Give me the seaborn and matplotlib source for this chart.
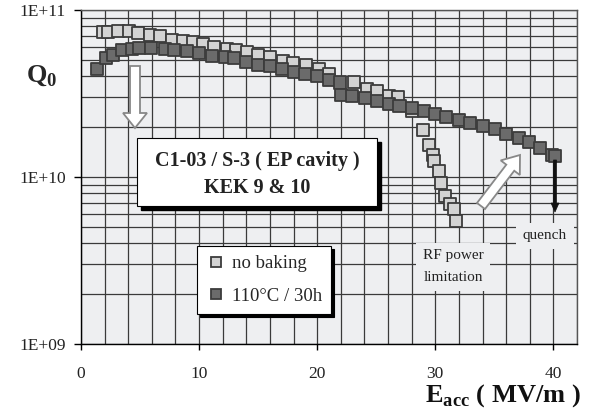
import numpy as np
import pandas as pd
import matplotlib
matplotlib.use("Agg")
import matplotlib.pyplot as plt
import seaborn as sns
from matplotlib.patches import FancyArrow, Rectangle
from matplotlib.transforms import Affine2D
from matplotlib.ticker import FixedLocator, MultipleLocator, LogLocator, FuncFormatter, NullFormatter

# ---- data (Q0 in units of 1E+10) ----
nobake_E = [1.84, 2.26, 3.11, 4.07, 4.86, 5.85, 6.69, 7.71, 8.62, 9.52, 10.31, 11.30,
            12.35, 13.11, 14.04, 14.97, 16.02, 17.09, 17.94, 19.07, 20.19, 21.04,
            23.08, 24.21, 25.06, 26.10, 26.82, 28.03, 28.92, 29.49, 29.77, 29.86,
            30.28, 30.48, 30.79, 31.21, 31.55, 31.72]
nobake_Q = [7.36, 7.43, 7.46, 7.46, 7.29, 7.10, 6.97, 6.65, 6.56, 6.47, 6.27, 5.98,
            5.85, 5.77, 5.58, 5.38, 5.21, 4.98, 4.79, 4.66, 4.44, 4.14,
            3.72, 3.37, 3.27, 3.06, 3.02, 2.49, 1.91, 1.56, 1.35, 1.25,
            1.09, 0.925, 0.769, 0.686, 0.640, 0.545]
baked_E = [1.33, 2.12, 2.74, 3.50, 4.30, 4.94, 5.93, 7.12, 7.88, 8.96, 10.03, 11.13,
           12.20, 12.99, 13.98, 14.97, 16.02, 17.01, 18.05, 18.98, 19.97, 20.96,
           21.95, 22.05, 22.94, 24.04, 25.03, 26.04, 26.97, 28.03, 29.08, 30.00,
           30.92, 31.99, 32.91, 34.03, 35.08, 36.02, 37.06, 37.91, 38.90, 39.89, 40.17]
baked_Q = [4.44, 5.14, 5.41, 5.77, 5.85, 5.93, 5.93, 5.85, 5.77, 5.69, 5.51, 5.33,
           5.26, 5.14, 4.85, 4.71, 4.65, 4.44, 4.28, 4.14, 4.02, 3.81,
           3.68, 3.10, 3.05, 2.99, 2.85, 2.75, 2.67, 2.58, 2.48, 2.38,
           2.29, 2.18, 2.11, 2.03, 1.93, 1.82, 1.72, 1.61, 1.50, 1.36, 1.34]
series_names = ["no baking", "110°C / 30h"]
x_ticks = [0, 10, 20, 30, 40]
y_ticks = [1e9, 1e10, 1e11]

df = pd.DataFrame({
    "E": nobake_E + baked_E,
    "Q": [q * 1e10 for q in nobake_Q] + [q * 1e10 for q in baked_Q],
    "series": [series_names[0]] * len(nobake_E) + [series_names[1]] * len(baked_E),
})

sns.set_theme(style="white")
plt.rcParams["font.family"] = ["Liberation Serif", "DejaVu Serif"]
plt.rcParams["mathtext.fontset"] = "custom"
plt.rcParams["mathtext.bf"] = "Liberation Serif:bold"
plt.rcParams["mathtext.rm"] = "Liberation Serif"

W, H = 589, 412
fig = plt.figure(figsize=(W / 100, H / 100), dpi=100)
fig.patch.set_facecolor("white")
ax = fig.add_axes([81 / W, 1 - 344 / H, (577 - 81) / W, (344 - 10) / H])
px = Affine2D().scale(1 / W, -1 / H).translate(0, 1) + fig.transFigure

bg = "#eeeff1"
ax.set_facecolor(bg)
sns.scatterplot(data=df, x="E", y="Q", hue="series",
                palette={series_names[0]: "#d3d3d3", series_names[1]: "#6b6b6b"},
                marker="s", s=75, edgecolor="#3c3c3c", linewidth=1.3, ax=ax, zorder=3)
ax.set_yscale("log")
ax.set_xlim(0, 42)
ax.set_ylim(1e9, 1e11)
ax.set_xlabel("")
ax.set_ylabel("")

ax.xaxis.set_major_locator(FixedLocator(x_ticks))
ax.xaxis.set_minor_locator(MultipleLocator(2))
ax.yaxis.set_major_locator(FixedLocator(y_ticks))
ax.yaxis.set_minor_locator(LogLocator(base=10, subs=range(2, 10)))
ax.yaxis.set_minor_formatter(NullFormatter())
ax.yaxis.set_major_formatter(FuncFormatter(lambda v, p: "1E+%02d" % int(round(np.log10(v)))))
ax.grid(which="both", color="#3a3a3a", lw=0.9)
ax.set_axisbelow(True)
ax.tick_params(which="major", axis="x", direction="out", length=4, width=1, color="black",
               labelsize=12.5, pad=12, bottom=True, labelcolor="#222")
ax.tick_params(which="major", axis="y", direction="out", length=5, width=1, color="black",
               labelsize=12.5, pad=6, left=True, labelcolor="#222")
ax.tick_params(which="minor", length=0)
for s in ["left", "bottom"]:
    ax.spines[s].set_color("black")
    ax.spines[s].set_linewidth(1.0)
for s in ["top", "right"]:
    ax.spines[s].set_color("#555555")
    ax.spines[s].set_linewidth(1.0)

# legend
handles, labels = ax.get_legend_handles_labels()
leg = ax.legend(handles, labels, loc="upper left", bbox_to_anchor=(197 / W, 1 - 246 / H),
                bbox_transform=fig.transFigure, borderaxespad=0, frameon=True, fancybox=False,
                edgecolor="black", framealpha=1, facecolor="white",
                shadow={"color": "black", "alpha": 1},
                prop={"family": "Liberation Serif", "size": 13.5},
                labelspacing=0.8, borderpad=0.5, handlelength=1.0, handletextpad=0.35,
                markerscale=0.75)
leg.get_frame().set_linewidth(0.8)

# axis titles
fig.text(26, 75, r"$\mathbf{Q}_{\mathbf{0}}$", transform=px, fontsize=19, ha="left", va="center")
fig.text(581, 396, r"$\mathbf{E}_{\mathbf{acc}}$" + " ( MV/m )", transform=px, fontsize=19,
         fontweight="bold", ha="right", va="center", color="#111")

# title box with shadow
fig.add_artist(Rectangle((141, 142), 240, 68, transform=px, facecolor="black", edgecolor="black"))
fig.add_artist(Rectangle((137, 138), 240, 68, transform=px, facecolor="white", edgecolor="black", lw=0.8))
fig.text(257, 161, "C1-03 / S-3 ( EP cavity )", transform=px, ha="center", va="center",
         fontsize=14.5, fontweight="bold", color="#222")
fig.text(257, 188, "KEK 9 & 10", transform=px, ha="center", va="center",
         fontsize=14.5, fontweight="bold", color="#222")

# annotations
fig.text(453, 267, "RF power\nlimitation", transform=px, ha="center", va="center",
         fontsize=11, linespacing=1.9, color="#222",
         bbox=dict(facecolor=bg, edgecolor="none", pad=5))
fig.text(545, 236, "quench", transform=px, ha="center", va="center",
         fontsize=11, color="#222", bbox=dict(facecolor=bg, edgecolor="none", pad=5))

# arrows
fig.add_artist(FancyArrow(135, 66, 0, 62, width=10, head_width=24, head_length=15,
                          length_includes_head=True, transform=px,
                          facecolor="white", edgecolor="#888888", lw=1.3))
fig.add_artist(FancyArrow(481, 206, 39, -51, width=10, head_width=24, head_length=16,
                          length_includes_head=True, transform=px,
                          facecolor="white", edgecolor="#888888", lw=1.3))
fig.add_artist(FancyArrow(555, 160, 0, 52, width=3, head_width=8, head_length=9,
                          length_includes_head=True, transform=px,
                          facecolor="#111111", edgecolor="#111111", lw=0.5))

fig.savefig("out.png", dpi=100)
